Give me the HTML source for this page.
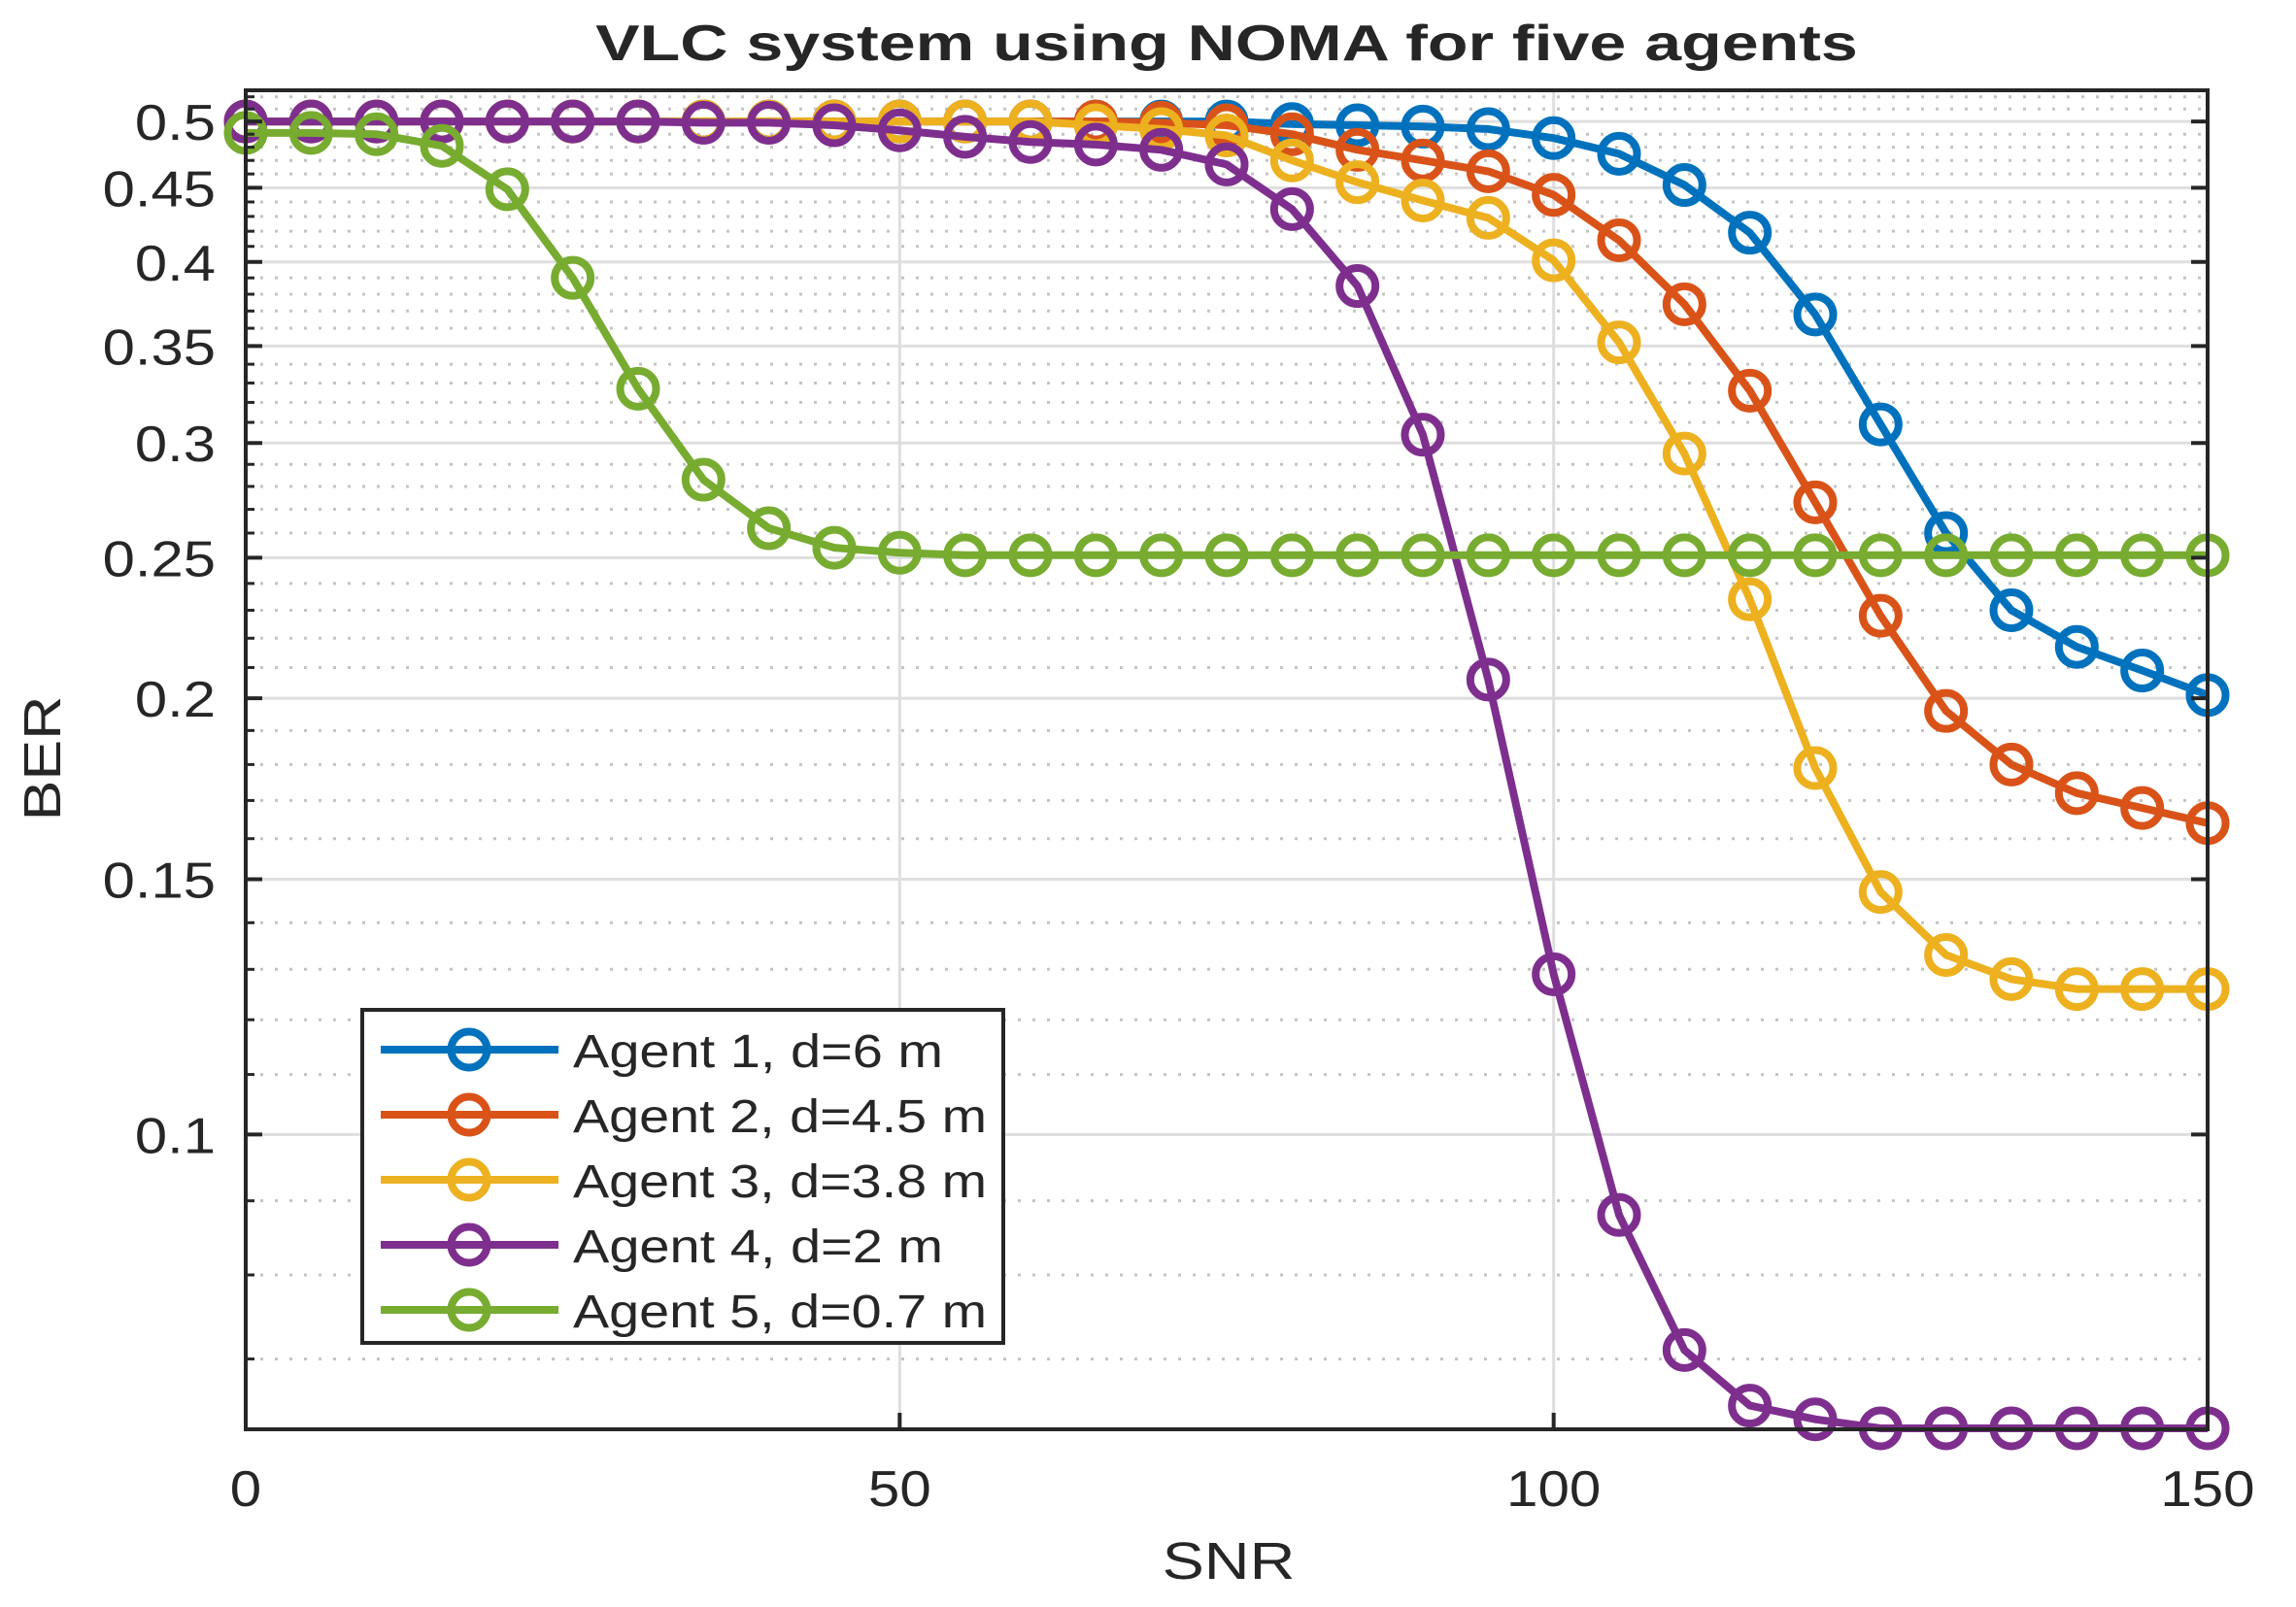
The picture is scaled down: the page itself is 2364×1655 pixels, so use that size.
<!DOCTYPE html>
<html><head><meta charset="utf-8"><style>
html,body{margin:0;padding:0;background:#fff;}
svg text{font-family:"Liberation Sans",Arial,sans-serif;fill:#262626;}
</style></head><body>
<svg id="chart" width="2364" height="1650" viewBox="0 0 2364 1650" xmlns="http://www.w3.org/2000/svg">
<rect x="0" y="0" width="2364" height="1650" fill="#fff"/>
<g id="grid"></g>
<g id="series"></g>
<g id="axes"></g>
<text id="ttl" x="1263" y="62" text-anchor="middle" font-size="52" font-weight="bold">VLC system using NOMA for five agents</text>
<text id="xt" x="1265" y="1626" text-anchor="middle" font-size="54">SNR</text>
<text id="yt" x="62" y="781" text-anchor="middle" font-size="54" transform="rotate(-90 62 781)">BER</text>
<g id="legend"></g>
</svg>
<script>
const snr = [0,5,10,15,20,25,30,35,40,45,50,55,60,65,70,75,80,85,90,95,100,105,110,115,120,125,130,135,140,145,150];
const agent1 = [0.5,0.5,0.5,0.5,0.5,0.5,0.5,0.5,0.5,0.5,0.5,0.5,0.5,0.5,0.5,0.5,0.498,0.497,0.496,0.494,0.487,0.475,0.452,0.419,0.368,0.309,0.26,0.23,0.217,0.209,0.201];
const agent2 = [0.5,0.5,0.5,0.5,0.5,0.5,0.5,0.5,0.5,0.5,0.5,0.5,0.5,0.5,0.499,0.497,0.49,0.478,0.47,0.462,0.445,0.414,0.374,0.326,0.273,0.228,0.196,0.18,0.172,0.168,0.164];
const agent3 = [0.5,0.5,0.5,0.5,0.5,0.5,0.5,0.5,0.5,0.5,0.5,0.5,0.5,0.497,0.494,0.489,0.47,0.454,0.441,0.429,0.401,0.352,0.295,0.234,0.179,0.147,0.133,0.128,0.126,0.126,0.126];
const agent4 = [0.5,0.5,0.5,0.5,0.5,0.5,0.5,0.499,0.499,0.497,0.493,0.488,0.484,0.482,0.478,0.467,0.435,0.385,0.304,0.206,0.129,0.088,0.071,0.065,0.0636,0.0627,0.0627,0.0627,0.0627,0.0627,0.0627];
const agent5 = [0.491,0.491,0.49,0.481,0.449,0.39,0.327,0.283,0.262,0.254,0.252,0.251,0.251,0.251,0.251,0.251,0.251,0.251,0.251,0.251,0.251,0.251,0.251,0.251,0.251,0.251,0.251,0.251,0.251,0.251,0.251];
const seriesNames = ["Agent 1, d=6 m","Agent 2, d=4.5 m","Agent 3, d=3.8 m","Agent 4, d=2 m","Agent 5, d=0.7 m"];
const seriesColors = ["#0072BD","#D95319","#EDB120","#7E2F8E","#77AC30"];
const xTicks = [0,50,100,150];
const yTicks = [0.1,0.15,0.2,0.25,0.3,0.35,0.4,0.45,0.5];
const yTickLabels = ["0.1","0.15","0.2","0.25","0.3","0.35","0.4","0.45","0.5"];
const yMinor = [0.07,0.08,0.09,0.11,0.12,0.13,0.14,0.16,0.17,0.18,0.19,0.21,0.22,0.23,0.24,0.26,0.27,0.28,0.29,0.31,0.32,0.33,0.34,0.36,0.37,0.38,0.39,0.41,0.42,0.43,0.44,0.46,0.47,0.48,0.49,0.51,0.52];

const L=253,R=2273,T=93,B=1472;
const xMin=0,xMax=150,yMin=0.0626,yMax=0.5254;
const NS="http://www.w3.org/2000/svg";
function X(v){return L+(v-xMin)/(xMax-xMin)*(R-L);}
function Y(v){return B-(Math.log(v)-Math.log(yMin))/(Math.log(yMax)-Math.log(yMin))*(B-T);}
function mk(tag,attrs,parent){const e=document.createElementNS(NS,tag);for(const k in attrs)e.setAttribute(k,attrs[k]);parent.appendChild(e);return e;}
function stretch(el,f){const w=el.getComputedTextLength();if(w>0){el.setAttribute('textLength',(w*f).toFixed(1));el.setAttribute('lengthAdjust','spacingAndGlyphs');}}

const grid=document.getElementById('grid');
yMinor.forEach(v=>{
  const ln=mk('line',{x1:L,x2:R,y1:Y(v),y2:Y(v),stroke:'#c4c4c4','stroke-width':3,'stroke-dasharray':'3 12'},grid);
  
  
});
yTicks.forEach(v=>{
  const ln=mk('line',{x1:L,x2:R,y1:Y(v),y2:Y(v),stroke:'#dedede','stroke-width':3},grid);
  
  
});
xTicks.forEach(v=>{
  const ln=mk('line',{x1:X(v),x2:X(v),y1:T,y2:B,stroke:'#dedede','stroke-width':3},grid);
  
  
});

const axes=document.getElementById('axes');
const box=mk('rect',{x:L,y:T,width:R-L,height:B-T,fill:'none',stroke:'#262626','stroke-width':4},axes);


yTicks.forEach((v,i)=>{
  const t=mk('line',{x1:L,x2:L+17,y1:Y(v),y2:Y(v),stroke:'#262626','stroke-width':4},axes);
  
  
  const t2=mk('line',{x1:R,x2:R-17,y1:Y(v),y2:Y(v),stroke:'#262626','stroke-width':4},axes);
  
  
  const tx=mk('text',{x:222,y:Y(v)+19,'text-anchor':'end','font-size':52},axes);
  tx.textContent=yTickLabels[i];
  
  
  stretch(tx,1.15);
});
yMinor.forEach(v=>{
  const t=mk('line',{x1:L,x2:L+9,y1:Y(v),y2:Y(v),stroke:'#262626','stroke-width':3},axes);
  
  
});
xTicks.forEach(v=>{
  const t=mk('line',{x1:X(v),x2:X(v),y1:B,y2:B-17,stroke:'#262626','stroke-width':4},axes);
  
  
  const tx=mk('text',{x:X(v),y:1551,'text-anchor':'middle','font-size':52},axes);
  tx.textContent=String(v);
  
  
  stretch(tx,1.12);
});

const allSeries=[agent1,agent2,agent3,agent4,agent5];
const sg=document.getElementById('series');
allSeries.forEach((data,si)=>{
  const g=mk('g',{},sg);
  
  
  const pts=data.map((v,i)=>X(snr[i]).toFixed(1)+','+Y(v).toFixed(1)).join(' ');
  const pl=mk('polyline',{points:pts,fill:'none',stroke:seriesColors[si],'stroke-width':8,'stroke-linejoin':'round'},g);
  
  
  data.forEach((v,i)=>{
    const c=mk('circle',{cx:X(snr[i]),cy:Y(v),r:18.5,fill:'none',stroke:seriesColors[si],'stroke-width':8},g);
    
    
  });
});

const lg=document.getElementById('legend');
const lb=mk('rect',{x:373,y:1040,width:660,height:343,fill:'#fff',stroke:'#262626','stroke-width':4},lg);


const legendWidths=[381,426,426,381,426];
seriesNames.forEach((n,i)=>{
  const y=1081+i*67;
  const e=mk('g',{},lg);
  
  
  const l=mk('line',{x1:392,x2:575,y1:y,y2:y,stroke:seriesColors[i],'stroke-width':8},e);
  
  
  const c=mk('circle',{cx:483,cy:y,r:18.5,fill:'none',stroke:seriesColors[i],'stroke-width':8},e);
  
  
  const t=mk('text',{x:590,y:y+18,'font-size':48,fill:'#000',textLength:legendWidths[i],lengthAdjust:'spacingAndGlyphs'},e);
  t.textContent=n;
  
  
});
stretch(document.getElementById('ttl'),1.31);
stretch(document.getElementById('xt'),1.2);
stretch(document.getElementById('yt'),1.16);
</script>
</body></html>
